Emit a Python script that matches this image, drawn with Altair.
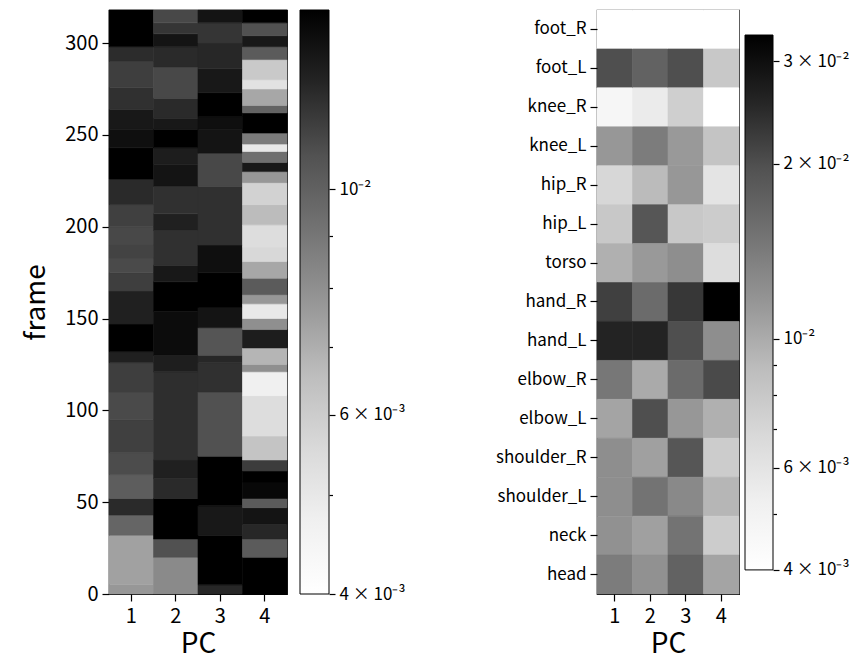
import altair as alt
import pandas as pd

FONT = "Noto Sans CJK JP"
N_FRAMES = 318
pcs = [1, 2, 3, 4]

# Left panel: runs of frames (start frame) and their values, per principal component
c1_start = [0, 5, 32, 43, 52, 65, 77, 95, 110, 126, 132, 147, 165, 175, 183, 190, 200, 212, 226, 243, 253, 264, 276, 290, 298]
c1_val = [0.0077, 0.0074, 0.0098, 0.0125, 0.0102, 0.011, 0.0115, 0.0111, 0.0116, 0.013, 0.016, 0.013, 0.0116, 0.0111, 0.0114,
          0.0112, 0.0115, 0.0125, 0.016, 0.014, 0.0135, 0.0122, 0.0116, 0.0124, 0.016]
c2_start = [0, 20, 30, 52, 63, 73, 121, 130, 154, 170, 179, 198, 207, 222, 234, 243, 253, 259, 270, 287, 298, 305, 311]
c2_val = [0.0082, 0.0108, 0.016, 0.0125, 0.013, 0.0123, 0.0131, 0.0142, 0.016, 0.0135, 0.0122, 0.013, 0.0122, 0.0137, 0.0132,
          0.016, 0.0135, 0.0125, 0.0112, 0.0125, 0.0137, 0.012, 0.0112]
c3_start = [0, 5, 32, 48, 75, 110, 126, 130, 145, 156, 175, 190, 222, 240, 253, 260, 273, 286, 300, 311]
c3_val = [0.0126, 0.016, 0.0135, 0.016, 0.0108, 0.0122, 0.0126, 0.0106, 0.0137, 0.016, 0.014, 0.0122, 0.0112, 0.0137, 0.014,
          0.016, 0.0135, 0.0126, 0.012, 0.0137]
c4_start = [0, 20, 30, 38, 47, 52, 61, 67, 73, 86, 108, 121, 125, 134, 144, 150, 158, 163, 172, 181, 189, 201, 212, 224, 230,
            235, 241, 245, 251, 262, 266, 275, 280, 291, 298, 304, 311]
c4_val = [0.016, 0.0103, 0.0126, 0.0137, 0.0103, 0.0145, 0.016, 0.0117, 0.0063, 0.0054, 0.0047, 0.008, 0.0068, 0.0132, 0.008,
          0.005, 0.0077, 0.0103, 0.0072, 0.0056, 0.0054, 0.0066, 0.0058, 0.0077, 0.0135, 0.0093, 0.005, 0.0088, 0.016, 0.0099,
          0.0072, 0.0052, 0.0061, 0.0103, 0.0135, 0.0108, 0.016]

# Right panel: joints (top to bottom) x PC
joints = ["foot_R", "foot_L", "knee_R", "knee_L", "hip_R", "hip_L", "torso", "hand_R", "hand_L",
          "elbow_R", "elbow_L", "shoulder_R", "shoulder_L", "neck", "head"]
j_pc1 = [0.0038, 0.020, 0.0047, 0.0115, 0.0069, 0.008, 0.0097, 0.0218, 0.026, 0.0146, 0.0105, 0.0123, 0.0123, 0.012, 0.014]
j_pc2 = [0.0038, 0.0172, 0.0055, 0.014, 0.009, 0.019, 0.0113, 0.016, 0.026, 0.0101, 0.020, 0.0108, 0.015, 0.0108, 0.012]
j_pc3 = [0.0038, 0.020, 0.0075, 0.0113, 0.0115, 0.008, 0.0123, 0.023, 0.020, 0.016, 0.0115, 0.019, 0.0127, 0.015, 0.0172]
j_pc4 = [0.0038, 0.008, 0.0038, 0.0083, 0.006, 0.0077, 0.0065, 0.034, 0.0123, 0.0205, 0.0097, 0.0077, 0.0093, 0.0077, 0.0105]

left_ticks = [0.004, 0.005, 0.006, 0.007, 0.008, 0.009, 0.01]
left_labels = {0.004: "4 × 10⁻³", 0.006: "6 × 10⁻³", 0.01: "10⁻²"}
right_ticks = [0.004, 0.005, 0.006, 0.007, 0.008, 0.009, 0.01, 0.02, 0.03]
right_labels = {0.004: "4 × 10⁻³", 0.006: "6 × 10⁻³", 0.01: "10⁻²", 0.02: "2 × 10⁻²", 0.03: "3 × 10⁻²"}
LEFT_MIN, LEFT_MAX = 0.004, 0.015
RIGHT_MIN, RIGHT_MAX = 0.004, 0.0333

greys = ["#ffffff", "#f0f0f0", "#d9d9d9", "#bdbdbd", "#969696", "#737373", "#525252", "#252525", "#000000"]


def grey_scale(vmin, vmax):
    n = len(greys) - 1
    stops = [vmin * (vmax / vmin) ** (i / n) for i in range(n + 1)]
    return alt.Scale(type="log", domain=stops, range=greys, clamp=True, interpolate="rgb")


rows = []
for pc, starts, vals in zip(pcs, [c1_start, c2_start, c3_start, c4_start], [c1_val, c2_val, c3_val, c4_val]):
    ends = starts[1:] + [N_FRAMES]
    for s, e, v in zip(starts, ends, vals):
        rows.append({"pc": pc, "start": s, "end": e, "value": v})
frames_df = pd.DataFrame(rows)

jrows = []
for pc, vals in zip(pcs, [j_pc1, j_pc2, j_pc3, j_pc4]):
    for j, v in zip(joints, vals):
        jrows.append({"pc": pc, "joint": j, "value": v})
joints_df = pd.DataFrame(jrows)

x_enc = alt.X("pc:O", title="PC", scale=alt.Scale(paddingInner=0, paddingOuter=0),
              axis=alt.Axis(labelAngle=0, titleFontSize=28, titlePadding=4, labelPadding=5))

left_scale = grey_scale(LEFT_MIN, LEFT_MAX)
left = alt.Chart(frames_df).mark_rect(strokeWidth=0.6).encode(
    x=x_enc,
    y=alt.Y("start:Q", title="frame", scale=alt.Scale(domain=[0, N_FRAMES], nice=False, zero=False),
            axis=alt.Axis(values=[0, 50, 100, 150, 200, 250, 300], titleFontSize=28, titlePadding=14)),
    y2="end:Q",
    color=alt.Color("value:Q", scale=left_scale, legend=None),
    stroke=alt.Stroke("value:Q", scale=left_scale, legend=None),
).properties(width=178, height=584)

right_scale = grey_scale(RIGHT_MIN, RIGHT_MAX)
right = alt.Chart(joints_df).mark_rect(strokeWidth=0.6).encode(
    x=x_enc,
    y=alt.Y("joint:N", title=None, sort=joints, scale=alt.Scale(paddingInner=0, paddingOuter=0),
            axis=alt.Axis(labelFontSize=17, labelPadding=4)),
    color=alt.Color("value:Q", scale=right_scale, legend=None),
    stroke=alt.Stroke("value:Q", scale=right_scale, legend=None),
).properties(width=142, height=584)


def colorbar(vmin, vmax, dom, ticks, labels, width):
    df = pd.DataFrame({"lo": [vmin], "hi": [vmax]})
    grad = alt.LinearGradient(
        gradient="linear",
        stops=[alt.GradientStop(color=c, offset=i / (len(greys) - 1)) for i, c in enumerate(greys)],
        x1=0, x2=0, y1=1, y2=0)
    major = list(labels.keys())
    test = " || ".join(f"abs(datum.value - {m}) < 1e-7" for m in major)
    expr = ""
    for m, lab in labels.items():
        expr += f"abs(datum.value - {m}) < 1e-7 ? '{lab}' : "
    expr += "''"
    return alt.Chart(df).mark_rect(fill=grad, stroke="black", strokeWidth=1).encode(
        x=alt.value(0), x2=alt.value(width),
        y=alt.Y("lo:Q", scale=alt.Scale(type="log", domain=dom, nice=False, zero=False),
                axis=alt.Axis(orient="right", values=ticks, labelExpr=expr, title=None, domain=False,
                              labelFontSize=17, labelPadding=4,
                              tickSize={"condition": {"test": test, "value": 6}, "value": 3.5})),
        y2="hi:Q",
    ).properties(width=width, height=584, view=alt.ViewBackground(stroke="transparent"))


cbar1 = colorbar(LEFT_MIN, LEFT_MAX, [LEFT_MIN, LEFT_MAX], left_ticks, left_labels, 29)
cbar2 = colorbar(RIGHT_MIN, RIGHT_MAX, [0.003636, 0.03677], right_ticks, right_labels, 28)

chart = alt.hconcat(
    alt.hconcat(left, cbar1, spacing=10).resolve_scale(color="independent", stroke="independent", y="independent"),
    alt.hconcat(right, cbar2, spacing=3).resolve_scale(color="independent", stroke="independent", y="independent"),
    spacing=88,
).resolve_scale(
    color="independent", stroke="independent", y="independent", x="independent"
).properties(
    padding={"left": 14, "top": 0, "right": 0, "bottom": 0}
).configure_view(
    stroke="black", strokeWidth=1.2
).configure_axis(
    labelFont=FONT, titleFont=FONT, labelFontSize=20, titleFontWeight="normal",
    labelColor="black", titleColor="black", tickColor="black", tickWidth=1.2, tickSize=7,
    domain=False, grid=False, labelPadding=4
)

chart.save("out.html", embed_options={"renderer": "svg", "actions": False})
